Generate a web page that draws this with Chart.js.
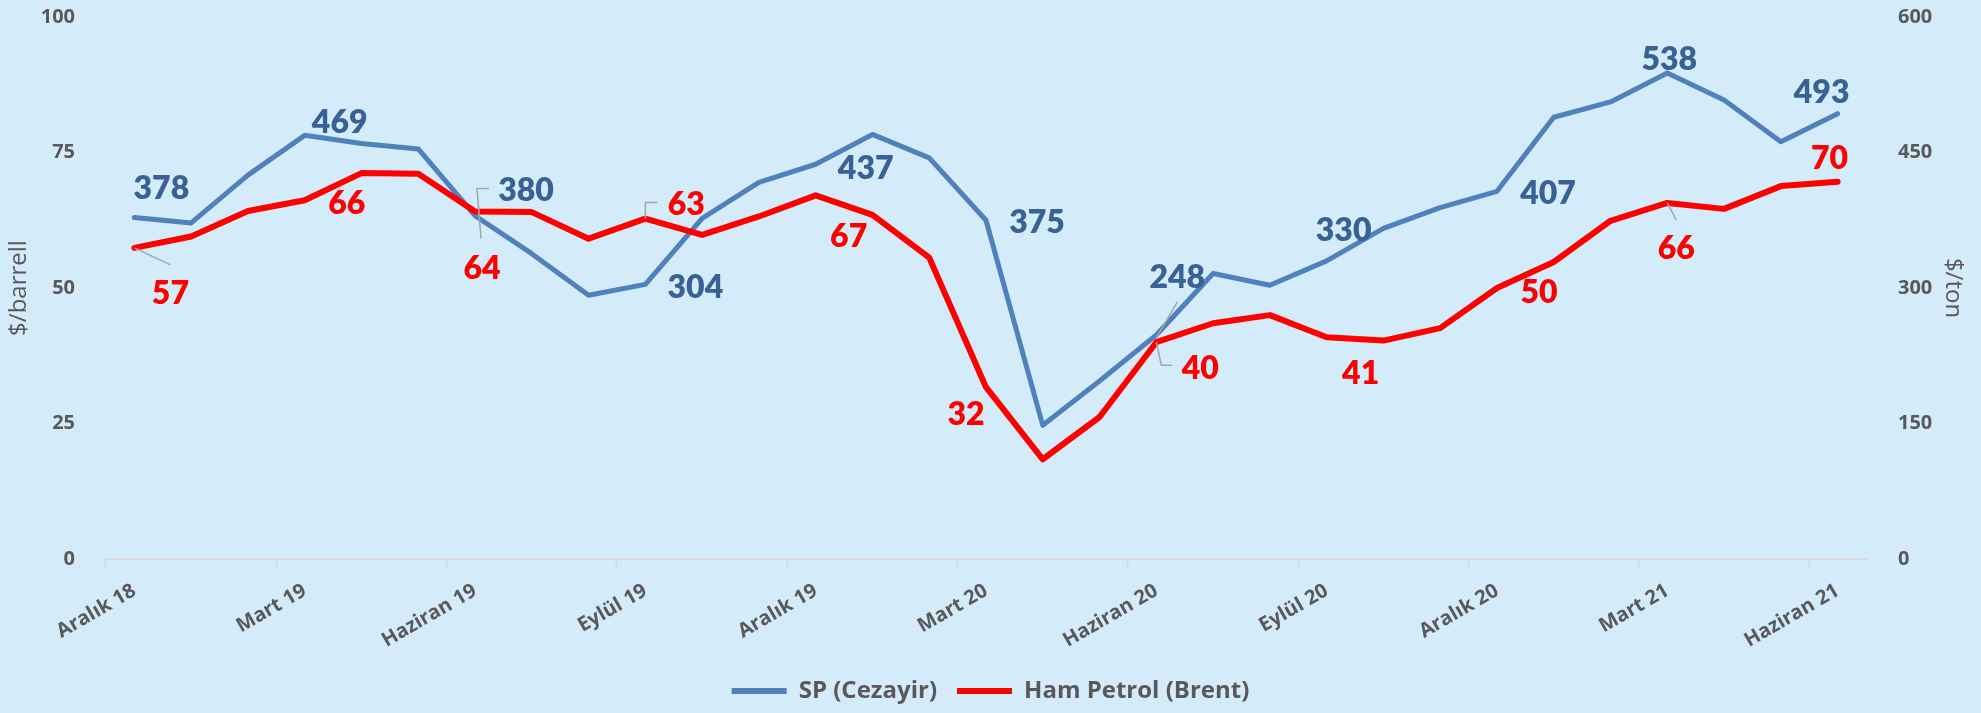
<!DOCTYPE html>
<html>
<head>
<meta charset="utf-8">
<script src="https://cdn.jsdelivr.net/npm/chart.js"></script>
<style>
  html, body { margin: 0; padding: 0; background: #d4ebfa; }
</style>
</head>
<body>
<canvas id="canvas" width="1981" height="713"></canvas>
<script>
const months = [
  'Aralık 18', 'Ocak 19', 'Şubat 19', 'Mart 19', 'Nisan 19', 'Mayıs 19', 'Haziran 19',
  'Temmuz 19', 'Ağustos 19', 'Eylül 19', 'Ekim 19', 'Kasım 19', 'Aralık 19',
  'Ocak 20', 'Şubat 20', 'Mart 20', 'Nisan 20', 'Mayıs 20', 'Haziran 20',
  'Temmuz 20', 'Ağustos 20', 'Eylül 20', 'Ekim 20', 'Kasım 20', 'Aralık 20',
  'Ocak 21', 'Şubat 21', 'Mart 21', 'Nisan 21', 'Mayıs 21', 'Haziran 21'
]
// SP (Cezayir), $/ton - right axis
const spValues = [378, 372, 425, 469, 460, 454, 380, 338, 292, 304, 377, 417, 437, 470, 444, 375,
  148, 197, 248, 316, 303, 330, 366, 389, 407, 489, 506, 538, 508, 462, 493]
// Ham Petrol (Brent), $/barrel - left axis
const brentValues = [57.4, 59.5, 64.2, 66.2, 71.2, 71.1, 64.1, 64.0, 59.1, 62.8, 59.8, 63.2, 67.1, 63.5, 55.6, 31.7,
  18.4, 26.2, 40.0, 43.5, 45.0, 40.9, 40.3, 42.6, 50.0, 54.8, 62.4, 65.7, 64.6, 68.8, 69.6]
const leftTicks = [0, 25, 50, 75, 100]
const rightTicks = [0, 150, 300, 450, 600]

const gray = '#595959'
const bg = '#d4ebfa'
const axisFont = 'Open Sans'

// label placement (offset from the point, px) and leader lines, per labelled index
const spLabels = {
  0: [27, -30], 3: [35, -14], 6: [51, -26], 9: [50, 2], 12: [50, 3], 15: [51, 1],
  18: [21, -58], 21: [17, -31], 24: [51, 1], 27: [2, -15], 30: [-16, -22]
}
const brentLabels = {
  0: [36, 45], 3: [42, 2], 6: [7, 56], 9: [41, -15], 12: [33, 40], 15: [-20, 26],
  18: [44, 25], 21: [34, 35], 24: [42, 3], 27: [9, 45], 30: [-8, -24]
}
const spLeaders = { 18: [[0, 3], [21, -33]] }
const brentLeaders = {
  0: [[0, 0], [36, 17]],
  6: [[6, 27], [2, -23], [14, -23]],
  9: [[0, 0], [0, -16], [12, -16]],
  18: [[0, 0], [5, 23], [16, 23]],
  27: [[0, 0], [9, 17]]
}

const background = {
  id: 'background',
  beforeDraw: (chart) => {
    const ctx = chart.ctx
    ctx.save()
    ctx.fillStyle = bg
    ctx.fillRect(0, 0, chart.width, chart.height)
    ctx.restore()
  }
}

const valueLabels = {
  id: 'valueLabels',
  afterDatasetsDraw: (chart) => {
    const ctx = chart.ctx
    const sets = [
      { meta: chart.getDatasetMeta(0), data: spValues, pos: spLabels, lead: spLeaders, color: '#386195' },
      { meta: chart.getDatasetMeta(1), data: brentValues, pos: brentLabels, lead: brentLeaders, color: '#ff0000' }
    ]
    ctx.save()
    sets.forEach(s => {
      ctx.strokeStyle = '#a6a6a6'
      ctx.lineWidth = 1.5
      Object.keys(s.lead).forEach(i => {
        const pt = s.meta.data[i]
        ctx.beginPath()
        s.lead[i].forEach(([dx, dy], k) => {
          if (k === 0) ctx.moveTo(pt.x + dx, pt.y + dy)
          else ctx.lineTo(pt.x + dx, pt.y + dy)
        })
        ctx.stroke()
      })
      ctx.font = '800 32px Lato'
      ctx.fillStyle = s.color
      ctx.textAlign = 'center'
      ctx.textBaseline = 'alphabetic'
      Object.keys(s.pos).forEach(i => {
        const pt = s.meta.data[i]
        const [dx, dy] = s.pos[i]
        ctx.fillText(String(Math.round(s.data[i])), pt.x + dx, pt.y + dy + 11.5)
      })
    })
    ctx.restore()
  }
}

// y axes: fixed width, no extra label padding above/below the plot
const fitY = (w) => (scale) => {
  scale.width = w
  scale.paddingTop = 0
  scale.paddingBottom = 0
}

const ctx = document.getElementById('canvas').getContext('2d')

const chart = new Chart(ctx, {
  type: 'line',
  data: {
    labels: months,
    datasets: [
      {
        label: 'SP (Cezayir)',
        data: spValues,
        yAxisID: 'yRight',
        borderColor: '#4f81bd',
        backgroundColor: '#4f81bd',
        borderWidth: 5,
        pointRadius: 0,
        tension: 0,
        borderJoinStyle: 'round',
        borderCapStyle: 'round',
        order: 1
      },
      {
        label: 'Ham Petrol (Brent)',
        data: brentValues,
        yAxisID: 'yLeft',
        borderColor: '#ff0000',
        backgroundColor: '#ff0000',
        borderWidth: 6,
        pointRadius: 0,
        tension: 0,
        borderJoinStyle: 'round',
        borderCapStyle: 'round',
        order: 0
      }
    ]
  },
  options: {
    responsive: false,
    animation: false,
    devicePixelRatio: 1,
    layout: { padding: { top: 17, left: 0, right: 0, bottom: 0 } },
    plugins: {
      tooltip: { enabled: false },
      legend: {
        position: 'bottom',
        labels: {
          boxWidth: 55,
          boxHeight: 6,
          padding: 20,
          color: gray,
          font: { family: axisFont, size: 24, weight: 'bold' },
          generateLabels: (chart) => chart.data.datasets.map((ds, i) => ({
            text: ds.label,
            fillStyle: ds.borderColor,
            strokeStyle: ds.borderColor,
            lineWidth: 0,
            fontColor: gray,
            hidden: false,
            datasetIndex: i
          }))
        }
      }
    },
    scales: {
      x: {
        offset: true,
        afterFit: (scale) => { scale.height = 100 },
        grid: {
          offset: true,
          drawOnChartArea: false,
          tickLength: 8,
          tickWidth: 2,
          tickColor: (c) => c.index % 3 === 0 ? '#d9d9d9' : 'rgba(0,0,0,0)'
        },
        border: { color: '#d9d9d9', width: 2 },
        ticks: {
          autoSkip: false,
          minRotation: 30,
          maxRotation: 30,
          padding: 12,
          color: gray,
          font: { family: axisFont, size: 20, weight: 'bold' },
          callback: function (val, i) { return i % 3 === 0 ? this.getLabelForValue(val) : '' }
        }
      },
      yLeft: {
        position: 'left',
        min: 0,
        max: 100,
        afterFit: fitY(106),
        afterBuildTicks: (scale) => { scale.ticks = leftTicks.map(v => ({ value: v })) },
        grid: { display: false },
        border: { display: false },
        ticks: {
          padding: 23,
          color: gray,
          font: { family: axisFont, size: 20, weight: 'bold' }
        },
        title: {
          display: true,
          text: '$/barrell',
          color: gray,
          padding: { top: 5, bottom: 0 },
          font: { family: axisFont, size: 24 }
        }
      },
      yRight: {
        position: 'right',
        min: 0,
        max: 600,
        afterFit: fitY(115),
        afterBuildTicks: (scale) => { scale.ticks = rightTicks.map(v => ({ value: v })) },
        grid: { display: false },
        border: { display: false },
        ticks: {
          padding: 24,
          color: gray,
          font: { family: axisFont, size: 20, weight: 'bold' }
        },
        title: {
          display: true,
          text: '$/ton',
          color: gray,
          padding: { top: 14, bottom: 0 },
          font: { family: axisFont, size: 24 }
        }
      }
    }
  },
  plugins: [background, valueLabels]
})
</script>
</body>
</html>
